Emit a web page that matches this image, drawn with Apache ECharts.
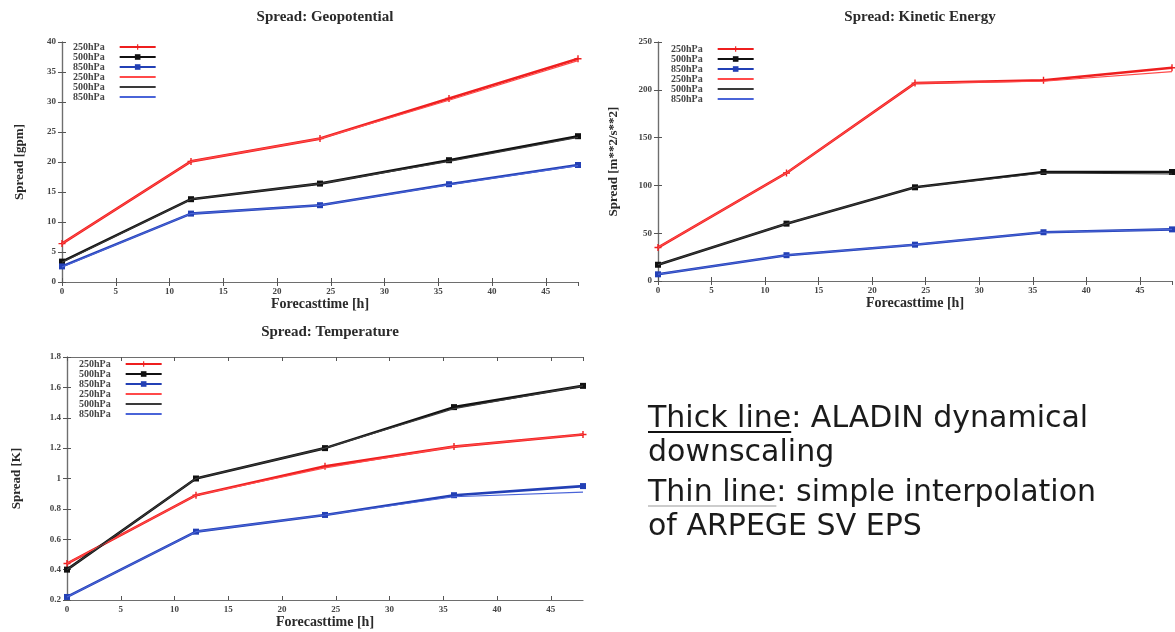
<!DOCTYPE html>
<html><head><meta charset="utf-8">
<script src="https://cdn.jsdelivr.net/npm/echarts@6/dist/echarts.min.js"></script>
<style>html,body{margin:0;padding:0;background:#fff}#c{width:1175px;height:632px}</style>
</head><body><div id="c"></div>
<script>
// ---------------- data ----------------
const hours = [0, 12, 24, 36, 48];
const levels = ['250hPa', '500hPa', '850hPa'];
const xTicks = [0, 5, 10, 15, 20, 25, 30, 35, 40, 45];

const titles = ['Spread: Geopotential', 'Spread: Kinetic Energy', 'Spread: Temperature'];
const yNames = ['Spread [gpm]', 'Spread [m**2/s**2]', 'Spread [K]'];
const xName = 'Forecasttime [h]';

// Geopotential
const geoThick250 = [6.4, 20.1, 23.9, 30.6, 37.2];
const geoThick500 = [3.4, 13.8, 16.4, 20.3, 24.3];
const geoThick850 = [2.6, 11.4, 12.8, 16.3, 19.5];
const geoThin250  = [6.4, 20.1, 23.9, 30.3, 36.9];
const geoThin500  = [3.3, 13.8, 16.4, 20.1, 24.1];
const geoThin850  = [2.5, 11.4, 12.8, 16.2, 19.4];
// Kinetic energy
const keThick250 = [35, 113, 207, 210, 223];
const keThick500 = [17, 60, 98, 114, 114];
const keThick850 = [7, 27, 38, 51, 54];
const keThin250  = [35, 113, 207, 209, 219];
const keThin500  = [17, 60, 98, 113, 112];
const keThin850  = [7, 27, 38, 51, 54];
// Temperature
const tThick250 = [0.44, 0.89, 1.08, 1.21, 1.29];
const tThick500 = [0.40, 1.00, 1.20, 1.47, 1.61];
const tThick850 = [0.22, 0.65, 0.76, 0.89, 0.95];
const tThin250  = [0.44, 0.89, 1.07, 1.21, 1.29];
const tThin500  = [0.40, 1.00, 1.20, 1.46, 1.61];
const tThin850  = [0.22, 0.65, 0.76, 0.88, 0.91];

const yRanges = [[0, 40, 5], [0, 250, 50], [0.2, 1.8, 0.2]];

const annoLines = ['Thick line: ALADIN dynamical', 'downscaling', 'Thin line: simple interpolation', 'of ARPEGE SV EPS'];
const annoUnderlined = ['Thick line', 'Thin line'];

// ---------------- styles ----------------
const SERIF = '"Liberation Serif", "DejaVu Serif", serif';
const grids = [
  {left: 62, top: 42, width: 516, height: 240},
  {left: 658, top: 42, width: 514, height: 239},
  {left: 67, top: 357, width: 516, height: 243}
];
const yNameGaps = [36, 38, 44];
const legendPos = [[73, 42], [671, 44], [79, 359]];
const thickColors = ['#ee1f1f', '#111111', '#2340b5'];
const thinColors = ['#ff4a4a', '#3a3a3a', '#4a64d8'];
const symbols = [
  'path://M4,0H6V4H10V6H6V10H4V6H0V4H4Z',
  'rect',
  'rect'
];
const symbolSizes = [7, 6, 6];

const panels = [
  {thick: [geoThick250, geoThick500, geoThick850], thin: [geoThin250, geoThin500, geoThin850]},
  {thick: [keThick250, keThick500, keThick850], thin: [keThin250, keThin500, keThin850]},
  {thick: [tThick250, tThick500, tThick850], thin: [tThin250, tThin500, tThin850]}
];

const pairs = vals => hours.map((h, i) => [h, vals[i]]);

const option = {
  animation: false,
  backgroundColor: '#ffffff',
  title: [], grid: [], xAxis: [], yAxis: [], legend: [], series: [], graphic: []
};

panels.forEach((p, gi) => {
  const g = grids[gi];
  option.grid.push(Object.assign({containLabel: false}, g));
  option.title.push({
    text: titles[gi],
    left: g.left + g.width / 2,
    top: g.top - 37,
    textAlign: 'center',
    textStyle: {fontFamily: SERIF, fontWeight: 'bold', fontSize: 15, color: '#2a2a2a'}
  });
  const axisLine = {show: true, lineStyle: {color: '#6e6e6e', width: 1.2}};
  const tick = {show: true, inside: true, length: 4, lineStyle: {color: '#555'}};
  option.xAxis.push({
    type: 'value', gridIndex: gi, min: 0, max: 48, interval: 5, position: 'bottom',
    name: xName, nameLocation: 'middle', nameGap: 14,
    nameTextStyle: {fontFamily: SERIF, fontWeight: 'bold', fontSize: 14, color: '#2a2a2a'},
    axisLine, axisTick: tick, splitLine: {show: false},
    axisLabel: {showMaxLabel: false, margin: 5, fontFamily: SERIF, fontWeight: 'bold', fontSize: 9, color: '#444'}
  });
  option.xAxis.push({
    type: 'value', gridIndex: gi, min: 0, max: 48, interval: 5, position: 'top',
    axisLine, axisTick: tick, splitLine: {show: false}, axisLabel: {show: false}
  });
  const yr = yRanges[gi];
  option.yAxis.push({
    type: 'value', gridIndex: gi, min: yr[0], max: yr[1], interval: yr[2], position: 'left',
    name: yNames[gi], nameLocation: 'middle', nameGap: yNameGaps[gi], nameRotate: 90,
    nameTextStyle: {fontFamily: SERIF, fontWeight: 'bold', fontSize: 13, color: '#2a2a2a'},
    axisLine, axisTick: tick, splitLine: {show: false},
    axisLabel: {margin: 6, fontFamily: SERIF, fontWeight: 'bold', fontSize: 9, color: '#444'}
  });
  option.yAxis.push({
    type: 'value', gridIndex: gi, min: yr[0], max: yr[1], interval: yr[2], position: 'right',
    axisLine, axisTick: tick, splitLine: {show: false}, axisLabel: {show: false}
  });
  const xi = gi * 2, yi = gi * 2;
  const legendData = [];
  p.thick.forEach((vals, li) => {
    const name = levels[li] + '#' + gi + 'a';
    legendData.push(name);
    option.series.push({
      type: 'line', name, xAxisIndex: xi, yAxisIndex: yi, data: pairs(vals),
      symbol: symbols[li], symbolSize: symbolSizes[li], showSymbol: true,
      lineStyle: {color: thickColors[li], width: 2.6},
      itemStyle: {color: thickColors[li]}, z: 3
    });
  });
  p.thin.forEach((vals, li) => {
    const name = levels[li] + '#' + gi + 'b';
    legendData.push(name);
    option.series.push({
      type: 'line', name, xAxisIndex: xi, yAxisIndex: yi, data: pairs(vals),
      symbol: 'none', showSymbol: false,
      lineStyle: {color: thinColors[li], width: 1.1},
      itemStyle: {color: 'rgba(0,0,0,0)', borderWidth: 0}, z: 4
    });
  });
  option.legend.push({
    data: legendData, orient: 'vertical', align: 'right', padding: 0,
    left: legendPos[gi][0], top: legendPos[gi][1],
    itemWidth: 36, itemHeight: 7, itemGap: 0, selectedMode: false,
    formatter: n => n.split('#')[0] + '\u2002\u2002',
    textStyle: {fontFamily: SERIF, fontWeight: 'bold', fontSize: 10, lineHeight: 10, color: '#444'}
  });
});

// annotation text
const ANNO_FONT_FAMILY = '"DejaVu Sans", sans-serif';
const ANNO_SIZE = 30;
const meas = document.createElement('canvas').getContext('2d');
meas.font = ANNO_SIZE + 'px ' + ANNO_FONT_FAMILY;
const annoX = 648;
const annoY = [419, 453, 493, 527];
annoLines.forEach((t, i) => {
  option.graphic.push({
    type: 'text', x: annoX, y: annoY[i],
    style: {text: t, fontFamily: ANNO_FONT_FAMILY, fontSize: ANNO_SIZE, fill: '#1b1b1b', verticalAlign: 'middle', align: 'left'}
  });
});
const ulThick = meas.measureText(annoUnderlined[0]).width;
const ulThin = meas.measureText(annoUnderlined[1]).width;
option.graphic.push({type: 'line', shape: {x1: annoX, y1: annoY[0] + 13, x2: annoX + ulThick, y2: annoY[0] + 13}, style: {stroke: '#111', lineWidth: 2}});
option.graphic.push({type: 'line', shape: {x1: annoX, y1: annoY[2] + 13, x2: annoX + ulThin, y2: annoY[2] + 13}, style: {stroke: '#999', lineWidth: 1}});

const chart = echarts.init(document.getElementById('c'), null, {renderer: 'canvas'});
chart.setOption(option);
</script>
</body></html>
